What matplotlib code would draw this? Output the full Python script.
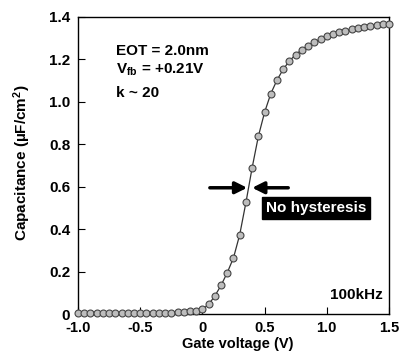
import matplotlib
matplotlib.use("Agg")
import matplotlib.pyplot as plt
import numpy as np

plt.rcParams['font.family'] = ['Liberation Sans', 'DejaVu Sans']
plt.rcParams['font.weight'] = 'bold'
plt.rcParams['mathtext.fontset'] = 'custom'
plt.rcParams['mathtext.rm'] = 'Liberation Sans:bold'
plt.rcParams['mathtext.it'] = 'Liberation Sans:bold'
plt.rcParams['mathtext.bf'] = 'Liberation Sans:bold'

# Data
gate_voltage = [-1.0, -0.95, -0.9, -0.85, -0.8, -0.75, -0.7, -0.65, -0.6, -0.55,
                -0.5, -0.45, -0.4, -0.35, -0.3, -0.25, -0.2, -0.15, -0.1, -0.05,
                0.0, 0.05, 0.1, 0.15, 0.2, 0.25, 0.3, 0.35, 0.4, 0.45,
                0.5, 0.55, 0.6, 0.65, 0.7, 0.75, 0.8, 0.85, 0.9, 0.95,
                1.0, 1.05, 1.1, 1.15, 1.2, 1.25, 1.3, 1.35, 1.4, 1.45, 1.5]
capacitance = [0.003, 0.003, 0.003, 0.003, 0.003, 0.003, 0.003, 0.003, 0.003, 0.003,
               0.003, 0.004, 0.004, 0.005, 0.006, 0.007, 0.008, 0.010, 0.012, 0.016,
               0.022, 0.045, 0.085, 0.135, 0.195, 0.265, 0.374, 0.526, 0.690, 0.838,
               0.951, 1.039, 1.103, 1.154, 1.193, 1.223, 1.246, 1.265, 1.282, 1.297,
               1.309, 1.318, 1.328, 1.336, 1.342, 1.348, 1.353, 1.358, 1.362, 1.366, 1.369]
x_ticks = [-1.0, -0.5, 0.0, 0.5, 1.0, 1.5]
x_tick_labels = ['-1.0', '-0.5', '0', '0.5', '1.0', '1.5']
y_ticks = [0, 0.2, 0.4, 0.6, 0.8, 1.0, 1.2, 1.4]
y_tick_labels = ['0', '0.2', '0.4', '0.6', '0.8', '1.0', '1.2', '1.4']

fig = plt.figure(figsize=(4.06, 3.52), dpi=100)
ax = fig.add_axes([78/406, 1 - 314/352, (389-78)/406, (314-17)/352])

ax.plot(gate_voltage, capacitance, color='#333333', lw=0.9,
        marker='o', markersize=5.0, markerfacecolor='#bdbdbd',
        markeredgecolor='#444444', markeredgewidth=0.8, clip_on=False, zorder=3)

ax.set_xlim(-1.0, 1.5)
ax.set_ylim(0, 1.4)
ax.set_xticks(x_ticks)
ax.set_xticklabels(x_tick_labels)
ax.set_yticks(y_ticks)
ax.set_yticklabels(y_tick_labels)
ax.tick_params(direction='in', length=5, width=0.8, labelsize=11,
               top=False, right=False)
ax.tick_params(axis='y', pad=5.5)
ax.tick_params(axis='x', pad=5, labelsize=10.5)
for lab in ax.get_xticklabels() + ax.get_yticklabels():
    lab.set_fontweight('bold')
for s in ax.spines.values():
    s.set_linewidth(1.0)

ax.set_xlabel('Gate voltage (V)', fontsize=10.5, fontweight='bold')
ax.xaxis.set_label_coords(0.514, -0.077)
ax.set_ylabel('Capacitance (µF/cm$^{2}$)', fontsize=11, fontweight='bold')
ax.yaxis.set_label_coords(-0.145, 0.508)

ax.text(0.122, 0.872, 'EOT = 2.0nm', transform=ax.transAxes, fontsize=11, fontweight='bold', va='baseline')
ax.text(0.122, 0.808, 'V$_{\\mathrm{fb}}$ = +0.21V', transform=ax.transAxes, fontsize=11, fontweight='bold', va='baseline')
ax.text(0.122, 0.732, 'k ~ 20', transform=ax.transAxes, fontsize=11, fontweight='bold', va='baseline')
ax.text(0.981, 0.0505, '100kHz', transform=ax.transAxes, fontsize=11, fontweight='bold', ha='right', va='baseline')

ax.text(0.51, 0.50, 'No hysteresis', fontsize=11, fontweight='bold', color='white',
        ha='left', va='center',
        bbox=dict(boxstyle='square,pad=0.25', facecolor='black', edgecolor='black'))

arrow_kw = dict(arrowstyle='-|>,head_length=0.7,head_width=0.35', color='black', lw=2.5,
                shrinkA=0, shrinkB=0)
ax.annotate('', xy=(0.36, 0.595), xytext=(0.06, 0.595), arrowprops=arrow_kw)
ax.annotate('', xy=(0.40, 0.595), xytext=(0.69, 0.595), arrowprops=arrow_kw)

fig.savefig('out.png', dpi=100)
